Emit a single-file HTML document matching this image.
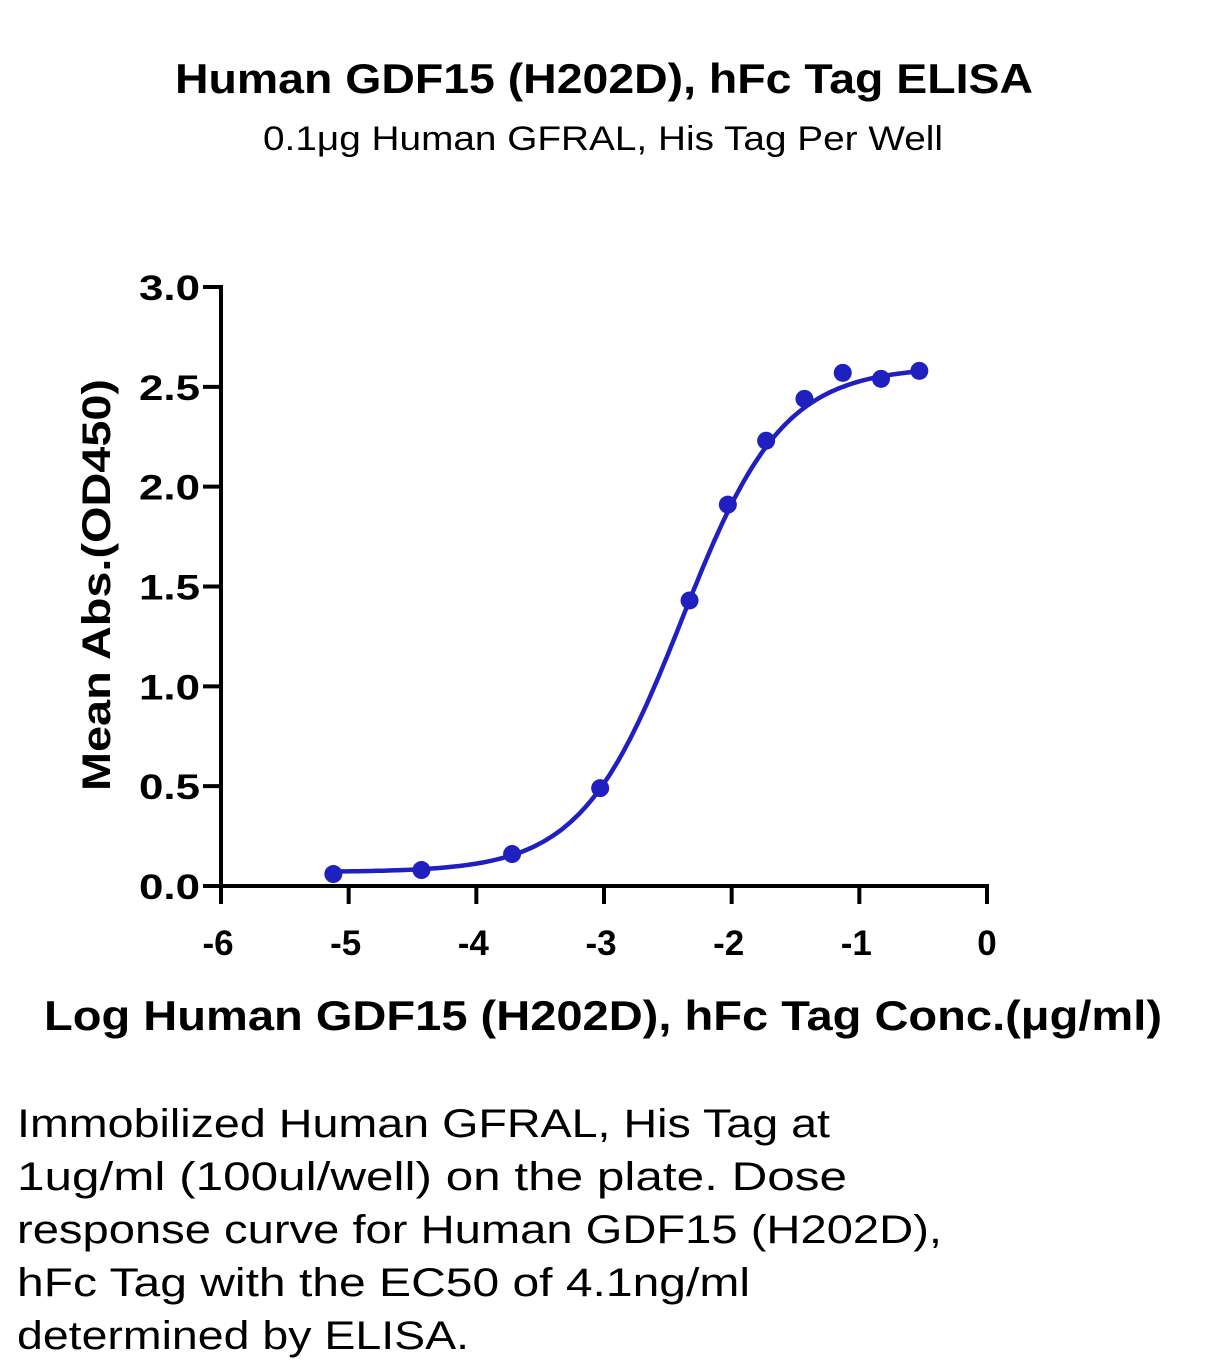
<!DOCTYPE html>
<html><head><meta charset="utf-8"><style>
html,body{margin:0;padding:0;background:#fff;}
svg{display:block;font-family:"Liberation Sans",sans-serif;}
</style></head><body>
<svg id="chart" width="1207" height="1372" viewBox="0 0 1207 1372" xmlns="http://www.w3.org/2000/svg">
<text x="604" y="93" text-anchor="middle" font-weight="bold" font-size="42" textLength="858" lengthAdjust="spacingAndGlyphs">Human GDF15 (H202D), hFc Tag ELISA</text>
<text x="603" y="150" text-anchor="middle" font-size="34" textLength="680" lengthAdjust="spacingAndGlyphs">0.1μg Human GFRAL, His Tag Per Well</text>
<g id="axes"></g>
<g id="marks"></g>
<text transform="translate(110,585) rotate(-90)" text-anchor="middle" font-weight="bold" font-size="40" textLength="412" lengthAdjust="spacingAndGlyphs">Mean Abs.(OD450)</text>
<text x="603" y="1030" text-anchor="middle" font-weight="bold" font-size="42" textLength="1118" lengthAdjust="spacingAndGlyphs">Log Human GDF15 (H202D), hFc Tag Conc.(μg/ml)</text>
<g font-size="40">
<text x="17" y="1137" textLength="813" lengthAdjust="spacingAndGlyphs">Immobilized Human GFRAL, His Tag at</text>
<text x="17" y="1190" textLength="830" lengthAdjust="spacingAndGlyphs">1ug/ml (100ul/well) on the plate. Dose</text>
<text x="17" y="1243" textLength="925" lengthAdjust="spacingAndGlyphs">response curve for Human GDF15 (H202D),</text>
<text x="17" y="1296" textLength="733" lengthAdjust="spacingAndGlyphs">hFc Tag with the EC50 of 4.1ng/ml</text>
<text x="17" y="1349" textLength="452" lengthAdjust="spacingAndGlyphs">determined by ELISA.</text>
</g>
</svg>
<script>
const xTicks = [-6,-5,-4,-3,-2,-1,0];
const yTicks = [0,0.5,1,1.5,2,2.5,3];
const yTickLabels = ["0.0","0.5","1.0","1.5","2.0","2.5","3.0"];
const logConc = [-5.12,-4.43,-3.72,-3.03,-2.33,-2.03,-1.73,-1.43,-1.13,-0.83,-0.53];
const absorb = [0.06,0.08,0.16,0.49,1.43,1.91,2.23,2.44,2.57,2.54,2.58];
const fitBottom = [0.07];
const fitTop = [2.60];
const fitLogEC50 = [-2.39];
const fitHill = [1.1];

const NS="http://www.w3.org/2000/svg";
const X0=221,X1=987,Y0=886,Y1=287;
const xs=v=>X0+(v+6)/6*(X1-X0);
const ys=v=>Y0-v/3*(Y0-Y1);
function mk(tag,attrs,parent){const e=document.createElementNS(NS,tag);for(const k in attrs)e.setAttribute(k,attrs[k]);parent.appendChild(e);return e;}
const axes=document.getElementById('axes'),marks=document.getElementById('marks');
let a=mk('line',{x1:X0,y1:Y1-2,x2:X0,y2:Y0+2,stroke:'#000','stroke-width':4},axes);


a=mk('line',{x1:X0-2,y1:Y0,x2:X1+2,y2:Y0,stroke:'#000','stroke-width':4},axes);


yTicks.forEach((v,i)=>{
 const t=mk('line',{x1:X0-18,y1:ys(v),x2:X0,y2:ys(v),stroke:'#000','stroke-width':4},axes);
 
 
 const l=mk('text',{x:X0-21,y:ys(v)+13,'text-anchor':'end','font-weight':'bold','font-size':35,textLength:61,lengthAdjust:'spacingAndGlyphs'},axes);
 l.textContent=yTickLabels[i];
 
 
});
xTicks.forEach(v=>{
 const t=mk('line',{x1:xs(v),y1:Y0,x2:xs(v),y2:Y0+18,stroke:'#000','stroke-width':4},axes);
 
 
 const l=mk('text',{x:xs(v)-(v<0?3:0),y:Y0+69,'text-anchor':'middle','font-weight':'bold','font-size':35},axes);
 l.textContent=String(v);
 
 
});
const f=x=>fitBottom[0]+(fitTop[0]-fitBottom[0])/(1+Math.pow(10,(fitLogEC50[0]-x)*fitHill[0]));
const xmin=Math.min(...logConc),xmax=Math.max(...logConc);
let d='';
for(let i=0;i<=200;i++){const x=xmin+(xmax-xmin)*i/200;d+=(i?'L':'M')+xs(x).toFixed(1)+','+ys(f(x)).toFixed(1);}
const c=mk('path',{d:d,fill:'none',stroke:'#2020c0','stroke-width':4.5},marks);


logConc.forEach((x,i)=>{
 const p=mk('circle',{cx:xs(x),cy:ys(absorb[i]),r:9,fill:'#2020c0'},marks);
 
 
});
</script>
</body></html>
